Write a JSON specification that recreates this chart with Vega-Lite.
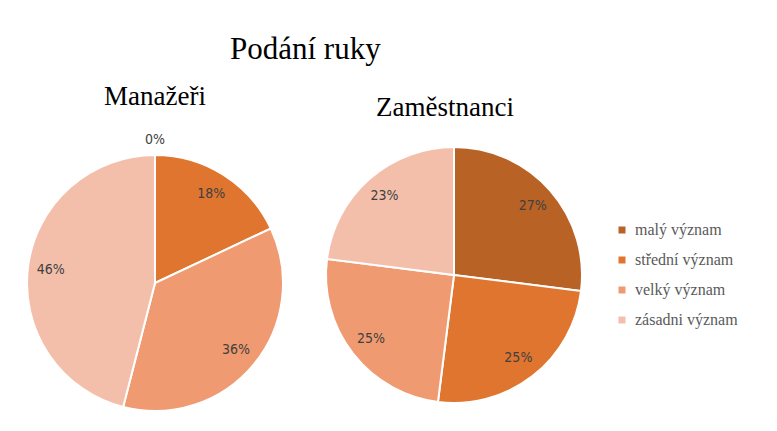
{
  "$schema": "https://vega.github.io/schema/vega-lite/v6.json",
  "background": "white",
  "padding": {"left": 23, "top": 34, "right": 0, "bottom": 0},
  "title": {
    "text": "Podání ruky",
    "font": "Liberation Serif",
    "fontSize": 31,
    "fontWeight": "normal",
    "color": "#000000",
    "anchor": "start",
    "dx": 207,
    "offset": 17
  },
  "data": {
    "values": [
      {"group": "Manažeři", "kategorie": "malý význam", "k": 1, "value": 0, "label": "0%"},
      {"group": "Manažeři", "kategorie": "střední význam", "k": 2, "value": 18, "label": "18%"},
      {"group": "Manažeři", "kategorie": "velký význam", "k": 3, "value": 36, "label": "36%"},
      {"group": "Manažeři", "kategorie": "zásadni význam", "k": 4, "value": 46, "label": "46%"},
      {"group": "Zaměstnanci", "kategorie": "malý význam", "k": 1, "value": 27, "label": "27%"},
      {"group": "Zaměstnanci", "kategorie": "střední význam", "k": 2, "value": 25, "label": "25%"},
      {"group": "Zaměstnanci", "kategorie": "velký význam", "k": 3, "value": 25, "label": "25%"},
      {"group": "Zaměstnanci", "kategorie": "zásadni význam", "k": 4, "value": 23, "label": "23%"}
    ]
  },
  "spacing": 35,
  "hconcat": [
    {
      "width": 260,
      "height": 280,
      "title": {"text": "Manažeři", "font": "Liberation Serif", "fontSize": 27, "fontWeight": "normal", "color": "#000000", "offset": 22, "dx": 0},
      "transform": [{"filter": "datum.group === 'Manažeři'"}],
      "layer": [
        {
          "mark": {"type": "arc", "radius": 128, "stroke": "white", "strokeWidth": 2},
          "encoding": {
            "theta": {"field": "value", "type": "quantitative", "stack": true},
            "order": {"field": "k", "type": "quantitative"},
            "color": {"field": "kategorie", "type": "nominal", "sort": null}
          }
        },
        {
          "transform": [{"filter": "datum.value > 0"}],
          "mark": {"type": "text", "radius": 105, "font": "Liberation Sans Narrow, DejaVu Sans Condensed, Liberation Sans, sans-serif", "fontSize": 14, "color": "#404040"},
          "encoding": {
            "theta": {"field": "value", "type": "quantitative", "stack": true},
            "order": {"field": "k", "type": "quantitative"},
            "text": {"field": "label", "type": "nominal"}
          }
        },
        {
          "transform": [{"filter": "datum.value == 0"}],
          "mark": {"type": "text", "radius": 143, "font": "Liberation Sans Narrow, DejaVu Sans Condensed, Liberation Sans, sans-serif", "fontSize": 14, "color": "#404040"},
          "encoding": {
            "theta": {"field": "value", "type": "quantitative", "stack": true},
            "order": {"field": "k", "type": "quantitative"},
            "text": {"field": "label", "type": "nominal"}
          }
        }
      ]
    },
    {
      "width": 260,
      "height": 264,
      "title": {"text": "Zaměstnanci", "font": "Liberation Serif", "fontSize": 27, "fontWeight": "normal", "color": "#000000", "offset": 21, "dx": -9},
      "transform": [{"filter": "datum.group === 'Zaměstnanci'"}],
      "layer": [
        {
          "mark": {"type": "arc", "radius": 128, "stroke": "white", "strokeWidth": 2},
          "encoding": {
            "theta": {"field": "value", "type": "quantitative", "stack": true},
            "order": {"field": "k", "type": "quantitative"},
            "color": {"field": "kategorie", "type": "nominal", "sort": null}
          }
        },
        {
          "mark": {"type": "text", "radius": 105, "font": "Liberation Sans Narrow, DejaVu Sans Condensed, Liberation Sans, sans-serif", "fontSize": 14, "color": "#404040"},
          "encoding": {
            "theta": {"field": "value", "type": "quantitative", "stack": true},
            "order": {"field": "k", "type": "quantitative"},
            "text": {"field": "label", "type": "nominal"}
          }
        }
      ]
    }
  ],
  "resolve": {"scale": {"color": "shared"}},
  "config": {
    "view": {"stroke": null},
    "range": {"category": ["#B86226", "#DF752F", "#EF9A70", "#F3BFAB"]},
    "legend": {
      "orient": "none",
      "legendX": 589,
      "legendY": 79,
      "title": null,
      "symbolType": "square",
      "symbolSize": 49,
      "symbolStrokeWidth": 0,
      "labelFont": "Liberation Serif",
      "labelFontSize": 16,
      "labelColor": "#595959",
      "labelOffset": 5,
      "rowPadding": 14
    }
  }
}
